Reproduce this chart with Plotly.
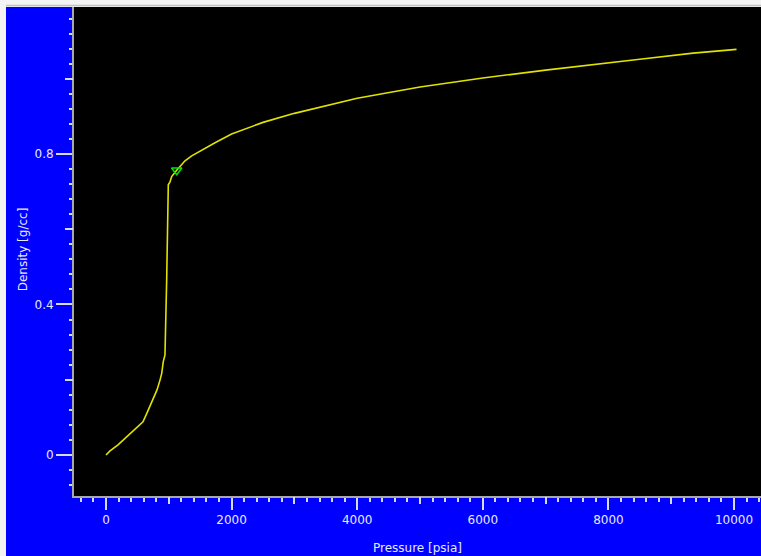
import plotly.graph_objects as go

# Curve: pressure [psia] vs density [g/cc]
pressure = [0, 64, 191, 400, 589, 653, 748, 812, 860, 887, 912, 939, 966, 979, 992,
            1019, 1046, 1126, 1205, 1258, 1365, 1497, 1629, 1736, 2000, 2500, 3000,
            3500, 4000, 5000, 6000, 7000, 8000, 8500, 9350, 10040]
density = [0.0, 0.011, 0.027, 0.058, 0.088, 0.112, 0.146, 0.173, 0.199, 0.217, 0.248,
           0.266, 0.465, 0.598, 0.718, 0.726, 0.740, 0.757, 0.771, 0.782, 0.795, 0.808,
           0.820, 0.830, 0.853, 0.884, 0.908, 0.929, 0.948, 0.978, 1.002, 1.023, 1.041,
           1.052, 1.068, 1.078]

# Highlighted point
marker_p = [1126]
marker_d = [0.757]

x_major = [0, 2000, 4000, 6000, 8000, 10000]
x_medium = [1000, 3000, 5000, 7000, 9000]
y_major = [0, 0.4, 0.8, 1.2]
y_major_text = ["0", "0.4", "0.8", "1.2"]
y_medium = [0.2, 0.6, 1.0]

W, H = 761, 556
ML, MR, MT, MB = 74, 0, 3, 60
pw, ph = W - ML - MR, H - MT - MB

TXT = "#e8e8ff"
TICK = "#d8d8ec"
AXL = "#a8a8a8"
FONT = "DejaVu Sans"

fig = go.Figure()
fig.add_trace(go.Scatter(x=pressure, y=density, mode="lines",
                         line=dict(color="#e2e200", width=1.6),
                         hoverinfo="skip", showlegend=False))
fig.add_trace(go.Scatter(x=marker_p, y=marker_d, mode="markers",
                         marker=dict(symbol="triangle-down-open", color="#00e600", size=9,
                                     line=dict(width=1.5, color="#00e600")),
                         showlegend=False))
# invisible trace to create overlay axes for medium ticks
fig.add_trace(go.Scatter(x=[None], y=[None], xaxis="x2", yaxis="y2",
                         showlegend=False, hoverinfo="skip"))

xr = [-509.6, 10430]
yr = [-0.109, 1.2013]

fig.update_layout(
    width=W, height=H,
    margin=dict(l=ML, r=MR, t=MT, b=MB, pad=0, autoexpand=False),
    paper_bgcolor="#0000ff",
    plot_bgcolor="#000000",
    font=dict(family=FONT, size=12, color=TXT),
    xaxis=dict(range=xr, showgrid=False, zeroline=False, automargin=False,
               showline=True, linecolor=AXL, linewidth=2,
               tickmode="array", tickvals=x_major, ticktext=[str(v) for v in x_major],
               ticks="outside", ticklen=12, tickwidth=2, tickcolor=TICK,
               tickfont=dict(family=FONT, size=12, color=TXT),
               minor=dict(dtick=200, tick0=0, ticks="outside", ticklen=4,
                          tickwidth=2, tickcolor=TICK, showgrid=False),
               title=dict(text="Pressure [psia]", standoff=17,
                          font=dict(family=FONT, size=12, color=TXT))),
    yaxis=dict(range=yr, showgrid=False, zeroline=False, automargin=False,
               showline=True, linecolor=AXL, linewidth=2,
               tickmode="array", tickvals=y_major, ticktext=y_major_text,
               ticks="outside", ticklen=16, tickwidth=2, tickcolor=TICK,
               tickfont=dict(family=FONT, size=12, color=TXT),
               minor=dict(dtick=0.04, tick0=0, ticks="outside", ticklen=3,
                          tickwidth=2, tickcolor=TICK, showgrid=False),
               title=dict(text="Density [g/cc]", standoff=4,
                          font=dict(family=FONT, size=12, color=TXT))),
    xaxis2=dict(range=xr, overlaying="x", anchor="y2", side="bottom", automargin=False,
                showgrid=False, zeroline=False, showline=False, showticklabels=False,
                tickmode="array", tickvals=x_medium, ticks="outside", ticklen=7,
                tickwidth=2, tickcolor=TICK),
    yaxis2=dict(range=yr, overlaying="y", anchor="x2", side="left", automargin=False,
                showgrid=False, zeroline=False, showline=False, showticklabels=False,
                tickmode="array", tickvals=y_medium, ticks="outside", ticklen=8,
                tickwidth=2, tickcolor=TICK),
)

# window-frame strips (top and left)
fx = lambda px: (px - ML) / pw
fy = lambda py: (H - MB - py) / ph
fig.add_shape(type="rect", xref="paper", yref="paper",
              x0=fx(0), x1=fx(W), y0=fy(7), y1=fy(0),
              fillcolor="#f3f3f3", line=dict(width=0), layer="above")
fig.add_shape(type="line", xref="paper", yref="paper",
              x0=fx(0), x1=fx(W), y0=fy(5.5), y1=fy(5.5),
              line=dict(color="#c0c0c0", width=1.5), layer="above")
fig.add_shape(type="rect", xref="paper", yref="paper",
              x0=fx(0), x1=fx(6), y0=fy(H), y1=fy(0),
              fillcolor="#f3f3f3", line=dict(width=0), layer="above")

fig.write_html("out.html",
               config={"displayModeBar": False},
               post_script="document.body.style.margin='0';"
                           "document.body.style.overflow='hidden';")
